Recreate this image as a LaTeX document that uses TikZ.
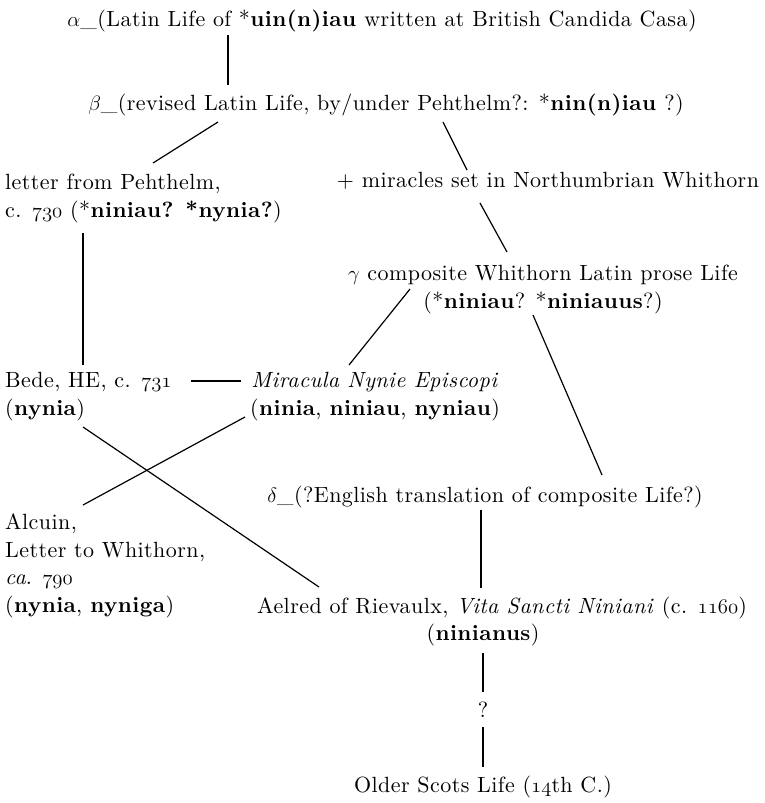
\documentclass[tikz,border=0pt]{standalone}
\usepackage{fontspec}
\setmainfont{lmroman10-regular.otf}[BoldFont=lmroman10-bold.otf,ItalicFont=lmroman10-italic.otf,LetterSpace=2]
\tikzset{
  txt/.style={inner sep=0pt, anchor=base},
  ltxt/.style={inner sep=0pt, anchor=base west, align=left},
  ctxt/.style={inner sep=0pt, anchor=base, align=center},
  stemma/.style={line width=1.2pt}
}
\newcommand{\osn}[1]{{\usefont{OML}{cmm}{m}{it}#1}}
\begin{document}
\begin{tikzpicture}[x=1pt,y=-1pt,font=\fontsize{22}{27.5}\selectfont]
\useasboundingbox (0,0) rectangle (765,803);

%testi (base = ultima riga)
\node[txt] (alpha) at (382,27) {$\alpha$\_(Latin Life of *\textbf{uin(n)iau} written at British Candida Casa)};
\node[txt] (beta) at (386,110) {$\beta$\_(revised Latin Life, by/under Pehthelm?: *\textbf{nin(n)iau} ?)};
\node[ltxt] (letter) at (5,217) {letter from Pehthelm,\\c. \osn{730} (*\textbf{niniau? *nynia?})};
\node[txt] (miracles) at (548,187) {+ miracles set in Northumbrian Whithorn};
\node[ctxt] (gamma) at (543,308) {$\gamma$ composite Whithorn Latin prose Life\\(*\textbf{niniau}? *\textbf{niniauus}?)};
\node[ltxt] (bede) at (5,415) {Bede, HE, c. \osn{731}\\(\textbf{nynia})};
\node[ctxt] (miracula) at (375,415) {\textit{Miracula Nynie Episcopi}\\(\textbf{ninia}, \textbf{niniau}, \textbf{nyniau})};
\node[txt] (delta) at (485,502) {$\delta$\_(?English translation of composite Life?)};
\node[ltxt] (alcuin) at (5,612) {Alcuin,\\Letter to Whithorn,\\\textit{ca}. \osn{790}\\(\textbf{nynia}, \textbf{nyniga})};
\node[txt] (aelred) at (502,613) {Aelred of Rievaulx, \textit{Vita Sancti Niniani} (c. \osn{1160})};
\node[txt] (ninianus) at (483,640) {(\textbf{ninianus})};
\node[txt] (q) at (483,717) {?};
\node[txt] (older) at (483,792) {Older Scots Life (\osn{14}th C.)};

%linee
\draw[stemma] ([shift={(-154,8)}]alpha.base) -- ([shift={(-158,-25)}]beta.base);
\draw[stemma] ([shift={(-168,12)}]beta.base) -- ([shift={(148,-54)}]letter.base west);
\draw[stemma] ([shift={(57,12)}]beta.base) -- ([shift={(-81,-17)}]miracles.base);
\draw[stemma] ([shift={(-68,16)}]miracles.base) -- ([shift={(-36,-56)}]gamma.base);
\draw[stemma] ([shift={(78,16)}]letter.base west) -- ([shift={(78,-50)}]bede.base west);
\draw[stemma] ([shift={(-133,-19)}]gamma.base) -- ([shift={(-26,-50)}]miracula.base);
\draw[stemma] ([shift={(186,-34)}]bede.base west) -- ([shift={(-134,-34)}]miracula.base);
\draw[stemma] ([shift={(-10,7)}]gamma.base) -- ([shift={(117,-27)}]delta.base);
\draw[stemma] ([shift={(78,12)}]bede.base west) -- ([shift={(-183,-26)}]aelred.base);
\draw[stemma] ([shift={(-130,2)}]miracula.base) -- ([shift={(78,-107)}]alcuin.base west);
\draw[stemma] ([shift={(-4,8)}]delta.base) -- ([shift={(-21,-25)}]aelred.base);
\draw[stemma] ([shift={(0,13)}]ninianus.base) -- ([shift={(0,-25)}]q.base);
\draw[stemma] ([shift={(0,10)}]q.base) -- ([shift={(0,-25)}]older.base);

\end{tikzpicture}
\end{document}
